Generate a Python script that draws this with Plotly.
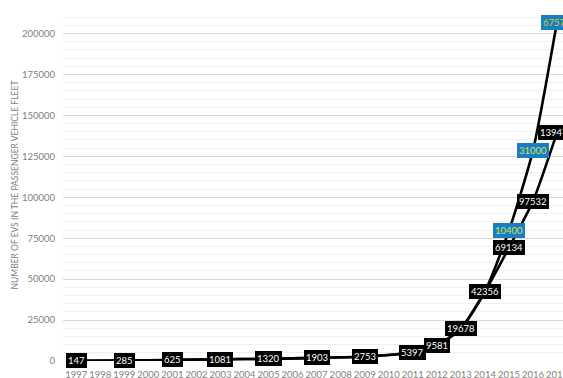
import plotly.graph_objects as go

# EV fleet (black series) and additional EVs on top of it (blue series)
fleet_years = [1997, 1999, 2001, 2003, 2005, 2007, 2009, 2011, 2012, 2013, 2014, 2015, 2016, 2017]
fleet_values = [147, 285, 625, 1081, 1320, 1903, 2753, 5397, 9581, 19678, 42356, 69134, 97532, 139470]

extra_years = [2014, 2015, 2016, 2017]
extra_values = [0, 10400, 31000, 67570]

year_ticks = list(range(1997, 2018))
y_ticks = [0, 25000, 50000, 75000, 100000, 125000, 150000, 175000, 200000]

FONT = "Lato"
fig = go.Figure()

fig.add_trace(go.Scatter(
    x=fleet_years, y=fleet_values, mode="lines",
    stackgroup="ev", fill="none", stackgaps="infer zero",
    line=dict(color="black", width=2.6, shape="spline", smoothing=0.6),
    hoverinfo="skip", showlegend=False,
))
fig.add_trace(go.Scatter(
    x=extra_years, y=extra_values, mode="lines",
    stackgroup="ev", fill="none",
    line=dict(color="black", width=2.6, shape="spline", smoothing=0.6),
    hoverinfo="skip", showlegend=False,
))

annotations = []
for x, v in zip(fleet_years, fleet_values):
    annotations.append(dict(
        x=x, y=v, xref="x", yref="y", text=str(v), showarrow=False,
        font=dict(family=FONT, size=9.5, color="white"),
        bgcolor="black", bordercolor="black", borderwidth=1, borderpad=1,
    ))

fleet_lookup = dict(zip(fleet_years, fleet_values))
for x, v in zip(extra_years, extra_values):
    if v == 0:
        continue
    annotations.append(dict(
        x=x, y=fleet_lookup[x] + v, xref="x", yref="y", text=str(v), showarrow=False,
        font=dict(family=FONT, size=9.5, color="#c4e64a" if v < 50000 else "#d4cf1e"),
        bgcolor="#1c7cc2", bordercolor="#1c7cc2", borderwidth=1, borderpad=1,
    ))

fig.update_layout(
    width=563, height=378,
    margin=dict(l=63, r=0, t=9, b=17, autoexpand=False),
    paper_bgcolor="white", plot_bgcolor="white",
    font=dict(family=FONT, color="#808080"),
    annotations=annotations,
    xaxis=dict(
        range=[1996.45, 2017.25], tickmode="array", tickvals=year_ticks,
        ticktext=[str(y) for y in year_ticks], tickangle=0,
        ticklabeloverflow="allow", automargin=False,
        showgrid=False, zeroline=False, showline=False, ticks="",
        tickfont=dict(family=FONT, size=9.5, color="#808080"),
        ticklabelstandoff=6,
    ),
    yaxis=dict(
        range=[0, 215000], tickmode="array", tickvals=y_ticks,
        ticktext=[str(v) for v in y_ticks], automargin=False,
        showgrid=True, gridcolor="#d9d9d9", gridwidth=1,
        zeroline=False, showline=False, ticks="",
        tickfont=dict(family=FONT, size=9.5, color="#808080"),
        ticklabelstandoff=7,
        minor=dict(dtick=5000, tick0=0, showgrid=True, gridcolor="#f0f0f0", gridwidth=1),
        title=dict(text="NUMBER OF EVS IN THE PASSENGER VEHICLE FLEET",
                   font=dict(family=FONT, size=8.5, color="#808080"), standoff=1),
    ),
)

fig.write_html("out.html")
